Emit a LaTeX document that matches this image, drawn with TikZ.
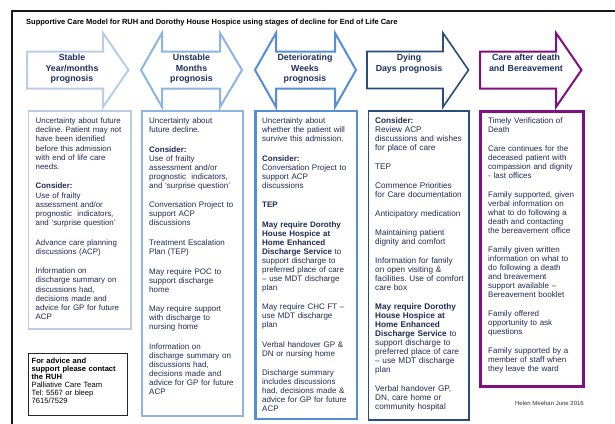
\documentclass[tikz,border=0pt]{standalone}
\usepackage{fontspec}
\setmainfont{Liberation Sans}
\frenchspacing

\definecolor{stableblue}{HTML}{B9CDE5}
\definecolor{unstableblue}{HTML}{8EB4E3}
\definecolor{detblue}{HTML}{558ED5}
\definecolor{dyingblue}{HTML}{2A4C7A}
\definecolor{afterpurple}{HTML}{80107F}
\definecolor{ink}{HTML}{1F2A50}
\definecolor{labelink}{HTML}{1F3060}

% right-pointing block arrow: left x, head base x, tip x
\newcommand\stagearrow[4]{%
  \draw[#4] (#1,51.5) -- (#2,51.5) -- (#2,33) -- (#3,70) -- (#2,107)
    -- (#2,88.5) -- (#1,88.5) -- cycle;}
% two-headed block arrow: left tip, left head base, right head base, right tip
\newcommand\twowayarrow[5]{%
  \draw[#5] (#1,70) -- (#2,33) -- (#2,51.5) -- (#3,51.5) -- (#3,33)
    -- (#4,70) -- (#3,107) -- (#3,88.5) -- (#2,88.5) -- (#2,107) -- cycle;}
\newcommand\firstline{\rule{0pt}{6.5pt}}
\newcommand\gapsize[1]{\setlength{\parskip}{#1}}

\begin{document}
\begin{tikzpicture}[x=1pt,y=-1pt,
  arrowline/.style={fill=white,line width=2pt,line join=miter},
  stagelabel/.style={anchor=north,text width=100pt,align=center,inner sep=0pt,
    text=labelink,font=\bfseries\fontsize{8.8}{10.3}\selectfont},
  bodytext/.style={anchor=north west,text width=100pt,align=left,inner sep=0pt,
    text=ink,font=\fontsize{8}{9}\selectfont},
  colbox/.style={fill=white}]
\useasboundingbox (0,0) rectangle (615,423);
\fill[white] (0,0) rectangle (615,423);

% outer frame
\draw[line width=2.5pt,black!90] (12,425) -- (12,11) -- (617,11);

% title
\node[anchor=base west,inner sep=0pt,font=\bfseries\fontsize{7.5}{9}\selectfont]
  (title) at (26,24.5) {Supportive Care Model for RUH and Dorothy House Hospice using stages of decline for End of Life Care};

% stage arrows
\stagearrow{27}{103}{128.5}{arrowline,draw=stableblue}
\twowayarrow{141}{162}{220}{242}{arrowline,draw=unstableblue}
\twowayarrow{255}{276}{335}{356}{arrowline,draw=detblue}
\stagearrow{367}{443}{468.5}{arrowline,draw=dyingblue,line width=1.6pt}
\stagearrow{480}{556}{581.5}{arrowline,draw=afterpurple}

\node[stagelabel] (s1) at (72,54) {\firstline Stable\\Year/months\\prognosis};
\node[stagelabel] (s2) at (191.5,54) {\firstline Unstable\\Months\\prognosis};
\node[stagelabel] (s3) at (305,54) {\firstline Deteriorating\\Weeks\\prognosis};
\node[stagelabel] (s4) at (409,54) {\firstline Dying\\Days prognosis};
\node[stagelabel] (s5) at (526,54) {\firstline Care after death\\and Bereavement};

% column boxes
\draw[colbox,draw=stableblue,line width=1.5pt] (28.5,111) rectangle (131,329);
\draw[colbox,draw=unstableblue,line width=2pt] (141.5,111) rectangle (243,416);
\draw[colbox,draw=detblue,line width=2.5pt] (255.5,111) rectangle (357,419);
\draw[colbox,draw=dyingblue,line width=1.2pt] (368.5,111) rectangle (469,420);
\draw[colbox,draw=afterpurple,line width=3pt] (480.5,111) rectangle (583,386);

% column texts
\node[bodytext,font=\fontsize{7.9}{9.1}\selectfont] (c1) at (35.5,117) {\gapsize{10.6pt}%
\firstline Uncertainty about future\\decline. Patient may not\\have been idenified\\before this admission\\with end of life care\\needs.\par
\textbf{Consider:}\\Use of frailty\\assessment and/or\\prognostic\ \ indicators,\\and ‘surprise question’\par
Advance care planning\\discussions (ACP)\par
Information on\\discharge summary on\\discussions had,\\decisions made and\\advice for GP for future\\ACP};

\node[bodytext] (c2) at (149,117) {\gapsize{10.6pt}%
\firstline Uncertainty about\\future decline.\par
\textbf{Consider:}\\Use of frailty\\assessment and/or\\prognostic\ \ indicators,\\and ‘surprise question’\par
Conversation Project to\\support ACP\\discussions\par
Treatment Escalation\\Plan (TEP)\par
May require POC to\\support discharge\\home\par
May require support\\with discharge to\\nursing home\par
Information on\\discharge summary on\\discussions had,\\decisions made and\\advice for GP for future\\ACP};

\node[bodytext] (c3) at (262,117) {\gapsize{10.5pt}%
\firstline Uncertainty about\\whether the patient will\\survive this admission.\par
\textbf{Consider:}\\Conversation Project to\\support ACP\\discussions\par
\textbf{TEP}\par
\textbf{May require Dorothy\\House Hospice at\\Home Enhanced\\Discharge Service} to\\support discharge to\\preferred place of care\\– use MDT discharge\\plan\par
May require CHC FT –\\use MDT discharge\\plan\par
Verbal handover GP \&\\DN or nursing home\par
Discharge summary\\includes discussions\\had, decisions made \&\\advice for GP for future\\ACP};

\node[bodytext,font=\fontsize{8.2}{9}\selectfont] (c4) at (375,117) {\gapsize{10pt}%
\firstline\textbf{Consider:}\\Review ACP\\discussions and wishes\\for place of care\par
TEP\par
Commence Priorities\\for Care documentation\par
Anticipatory medication\par
Maintaining patient\\dignity and comfort\par
Information for family\\on open visiting \&\\facilities. Use of comfort\\care box\par
\textbf{May require Dorothy\\House Hospice at\\Home Enhanced\\Discharge Service} to\\support discharge to\\preferred place of care\\– use MDT discharge\\plan\par
Verbal handover GP,\\DN, care home or\\community hospital};

\node[bodytext] (c5) at (488,117) {\gapsize{10pt}%
\firstline Timely Verification of\\Death\par
Care continues for the\\deceased patient with\\compassion and dignity\\- last offices\par
Family supported, given\\verbal information on\\what to do following a\\death and contacting\\the bereavement office\par
Family given written\\information on what to\\do following a death\\and breavement\\support available –\\Bereavement booklet\par
Family offered\\opportunity to ask\\questions\par
Family supported by a\\member of staff when\\they leave the ward};

% contact box
\draw[black!85,line width=1pt] (28,353) rectangle (127.5,415);
\node[bodytext,text=black,font=\fontsize{7.6}{8.1}\selectfont] (contact) at (31.5,357)
  {\rule{0pt}{6pt}\textbf{For advice and\\support please contact\\the RUH}\\Palliative Care Team\\Tel: 5567 or bleep\\7615/7529};

% author line
\node[anchor=base east,inner sep=0pt,text=black!80,font=\fontsize{6}{7}\selectfont]
  (author) at (584,405) {Helen Meehan June 2016};
\end{tikzpicture}
\end{document}
